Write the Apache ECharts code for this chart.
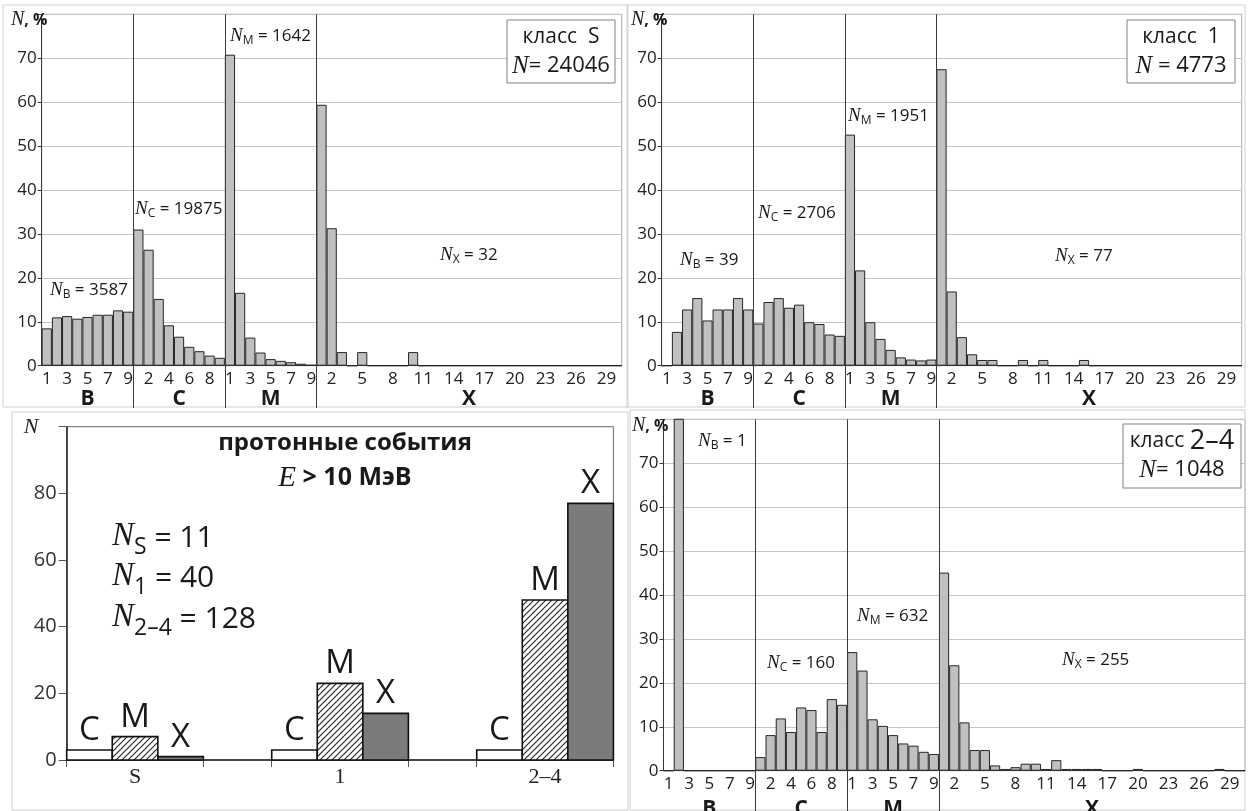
<!DOCTYPE html>
<html>
<head>
<meta charset="utf-8">
<script src="https://cdn.jsdelivr.net/npm/echarts@6/dist/echarts.min.js"></script>
<style>
  html, body { margin: 0; padding: 0; background: #fff; }
  #main { width: 1248px; height: 811px; }
</style>
</head>
<body>
<div id="main"></div>
<script>
// ---- flare classes and bins (B1..B9, C1..C9, M1..M9, X1..X30) ----
const classNames = ['B', 'C', 'M', 'X'];
const binsPerClass = [9, 9, 9, 30];
const bins = classNames.flatMap((c, i) => Array.from({ length: binsPerClass[i] }, (_, k) => c + (k + 1)));

// ---- class S sunspot groups, % of flares in each bin ----
const classS_B = [8.5, 11.0, 11.3, 10.7, 11.1, 11.6, 11.6, 12.6, 12.3];
const classS_C = [31.0, 26.4, 15.2, 9.2, 6.6, 4.3, 3.3, 2.3, 1.8];
const classS_M = [70.8, 16.6, 6.4, 3.0, 1.5, 1.1, 0.8, 0.45, 0.2];
const classS_X = [59.4, 31.3, 3.1, 0, 3.1, 0, 0, 0, 0, 3.1,
                  0, 0, 0, 0, 0, 0, 0, 0, 0, 0,
                  0, 0, 0, 0, 0, 0, 0, 0, 0, 0];

// ---- class 1 ----
const classOne_B = [0, 7.7, 12.8, 15.4, 10.3, 12.8, 12.8, 15.4, 12.8];
const classOne_C = [9.6, 14.5, 15.4, 13.2, 13.9, 9.9, 9.5, 7.1, 6.8];
const classOne_M = [52.6, 21.7, 9.9, 6.1, 3.6, 1.9, 1.4, 1.2, 1.4];
const classOne_X = [67.5, 16.9, 6.5, 2.6, 1.3, 1.3, 0, 0, 1.3, 0,
                    1.3, 0, 0, 0, 1.3, 0, 0, 0, 0, 0,
                    0, 0, 0, 0, 0, 0, 0, 0, 0, 0];

// ---- class 2–4 ----
const classTwoFour_B = [0, 100, 0, 0, 0, 0, 0, 0, 0];
const classTwoFour_C = [3.1, 8.1, 11.9, 8.8, 14.4, 13.8, 8.8, 16.3, 15.0];
const classTwoFour_M = [27.0, 22.8, 11.7, 10.2, 8.1, 6.2, 5.7, 4.3, 3.8];
const classTwoFour_X = [45.1, 24.0, 11.0, 4.7, 4.7, 1.2, 0.4, 0.8, 1.6, 1.6,
                        0.4, 2.4, 0.4, 0.4, 0.4, 0.4, 0, 0, 0, 0.4,
                        0, 0, 0, 0, 0, 0, 0, 0.4, 0, 0];

// ---- proton events E > 10 MeV by sunspot class ----
const protonGroups = ['S', '1', '2–4'];
const protonFlareLetters = ['C', 'M', 'X'];
const protonC = [3, 3, 3];
const protonM = [7, 23, 48];
const protonX = [1, 14, 77];

const SANS = '"Open Sans", "Noto Sans", sans-serif';
const SERIF = '"Liberation Serif", "DejaVu Serif", serif';

// three histogram panels
const histPanels = [
  { title: 'S', total: '24046', eq: '= ', values: [classS_B, classS_C, classS_M, classS_X],
    grid: { left: 41.7, top: 14.3, width: 580, height: 351.4 }, panelBottom: 408, classLabelDy: 33,
    counts: [['B', '3587', 50, 292], ['C', '19875', 135, 211], ['M', '1642', 230, 38], ['X', '32', 440, 257]],
    box: [507, 20, 108, 63], unitLabel: [11, 20] },
  { title: '1', total: '4773', eq: ' = ', values: [classOne_B, classOne_C, classOne_M, classOne_X],
    grid: { left: 661.7, top: 14.3, width: 580, height: 351.4 }, panelBottom: 408, classLabelDy: 33,
    counts: [['B', '39', 680, 262], ['C', '2706', 758, 215], ['M', '1951', 848, 118], ['X', '77', 1055, 258]],
    box: [1127, 20, 108, 63], unitLabel: [631, 20] },
  { title: '2–4', total: '1048', eq: '= ', values: [classTwoFour_B, classTwoFour_C, classTwoFour_M, classTwoFour_X],
    grid: { left: 663.5, top: 419.3, width: 581.5, height: 351.4 }, panelBottom: 811, classLabelDy: 38,
    counts: [['B', '1', 698, 443], ['C', '160', 767, 665], ['M', '632', 857, 618], ['X', '255', 1062, 662]],
    box: [1123, 424, 118, 64], unitLabel: [632, 426] }
];

function showBinLabel(index) {
  return index < 27 ? index % 2 === 0 : (index - 27) % 3 === 1;
}

const grids = [], xAxes = [], yAxes = [], series = [];

histPanels.forEach((p, i) => {
  grids.push(Object.assign({ show: true, borderColor: '#a8a8a8', borderWidth: 1, backgroundColor: 'transparent' }, p.grid));
  xAxes.push({
    type: 'category', gridIndex: i, data: bins,
    axisLine: { lineStyle: { color: '#3a3a3a', width: 1 } },
    axisTick: { interval: 0, length: 4, lineStyle: { color: '#3a3a3a' } },
    axisLabel: { interval: (idx) => showBinLabel(idx), formatter: (v) => v.slice(1),
                 fontFamily: SANS, fontSize: 17, color: '#222', margin: 5 },
    splitLine: { show: false }
  });
  yAxes.push({
    type: 'value', gridIndex: i, min: 0, max: 80, interval: 10,
    axisLine: { show: true, lineStyle: { color: '#3a3a3a', width: 1 } },
    axisTick: { show: true, length: 4, lineStyle: { color: '#3a3a3a' } },
    axisLabel: { formatter: (v) => (v === 80 ? '' : v), fontFamily: SANS, fontSize: 17, color: '#222', margin: 5 },
    splitLine: { show: true, lineStyle: { color: '#c6c6c6', width: 1 } }
  });
  series.push({
    type: 'bar', xAxisIndex: i, yAxisIndex: i,
    data: [].concat(...p.values),
    barCategoryGap: '0%', clip: true,
    itemStyle: { color: '#c0c0c0', borderColor: '#262626', borderWidth: 1 },
    silent: true
  });
});

// hatch fill for the M bars of the proton-event panel
function hatchPattern() {
  const c = document.createElement('canvas');
  c.width = 6; c.height = 6;
  const g = c.getContext('2d');
  g.fillStyle = '#fff'; g.fillRect(0, 0, 6, 6);
  g.strokeStyle = '#2a2a2a'; g.lineWidth = 1.2;
  g.beginPath();
  g.moveTo(-1, 7); g.lineTo(7, -1);
  g.moveTo(-1, 1); g.lineTo(1, -1);
  g.moveTo(5, 7); g.lineTo(7, 5);
  g.stroke();
  return { image: c, repeat: 'repeat' };
}
const protonFills = ['#ffffff', hatchPattern(), '#7b7b7b'];

// proton-event panel: each group is three adjacent bars, 1.5 bar widths apart
const GROUP_STEP = 4.5;
const protonData = [];
protonGroups.forEach((g, gi) => {
  [protonC, protonM, protonX].forEach((arr, k) => {
    protonData.push([gi * GROUP_STEP + k, arr[gi], k]);
  });
});

grids.push({ left: 66.7, top: 426.7, width: 546.7, height: 333.3, show: true, borderColor: '#6a6a6a', borderWidth: 1 });
xAxes.push({
  type: 'value', gridIndex: 3, min: 0, max: 12,
  axisLine: { lineStyle: { color: '#222', width: 1.5 } },
  axisTick: { show: true, length: 7, lineStyle: { color: '#555' },
              customValues: [0, 3, GROUP_STEP, GROUP_STEP + 3, 2 * GROUP_STEP, 2 * GROUP_STEP + 3] },
  axisLabel: { customValues: protonGroups.map((_, i) => i * GROUP_STEP + 1.5),
               formatter: (v) => protonGroups[Math.round((v - 1.5) / GROUP_STEP)],
               fontFamily: SERIF, fontSize: 22, color: '#222', margin: 6 },
  splitLine: { show: false }
});
yAxes.push({
  type: 'value', gridIndex: 3, min: 0, max: 100, interval: 20,
  axisLine: { show: true, lineStyle: { color: '#222', width: 1.5 } },
  axisTick: { show: true, length: 8, lineStyle: { color: '#555' } },
  axisLabel: { formatter: (v) => (v === 100 ? '' : v), fontFamily: SANS, fontSize: 20, color: '#333', margin: 10 },
  splitLine: { show: false }
});
series.push({
  type: 'custom', xAxisIndex: 3, yAxisIndex: 3, data: protonData, silent: true,
  renderItem: (params, api) => {
    const x0 = api.value(0), v = api.value(1), k = api.value(2);
    const pA = api.coord([x0, 0]);
    const pB = api.coord([x0 + 1, v]);
    return {
      type: 'group',
      children: [
        { type: 'rect', shape: { x: pA[0], y: pB[1], width: pB[0] - pA[0], height: pA[1] - pB[1] },
          style: { fill: protonFills[k], stroke: '#111', lineWidth: 1.6 } },
        { type: 'text', style: { text: protonFlareLetters[k], x: (pA[0] + pB[0]) / 2, y: pB[1] - 3,
          align: 'center', verticalAlign: 'bottom', font: '33px ' + SANS, fill: '#1a1a1a' } }
      ]
    };
  }
});

const chart = echarts.init(document.getElementById('main'), null, { renderer: 'canvas' });
chart.setOption({
  animation: false,
  backgroundColor: '#ffffff',
  grid: grids, xAxis: xAxes, yAxis: yAxes, series: series
});

// ---- text, frames and class separators ----
const g = [];

// panel frames
[[3, 5, 625, 402], [627, 5, 618, 402], [12, 412, 616, 398], [630, 410, 615, 400]].forEach((r) => {
  g.push({ type: 'rect', shape: { x: r[0], y: r[1], width: r[2], height: r[3] }, z: 0,
           style: { fill: null, stroke: '#cfcfcf', lineWidth: 1 } });
});

function countLabel(sub, val, x, y) {
  return {
    type: 'text', x: x, y: y, z: 20,
    style: {
      text: '{n|N}{s|' + sub + '}{v| = ' + val + '}',
      verticalAlign: 'middle', align: 'left',
      rich: {
        n: { fontFamily: SERIF, fontStyle: 'italic', fontSize: 19, lineHeight: 20, verticalAlign: 'bottom', padding: [0, 0, 3, 0], fill: '#1a1a1a' },
        s: { fontFamily: SANS, fontSize: 12, lineHeight: 12, verticalAlign: 'bottom', padding: [0, 0, 1, 0], fill: '#1a1a1a' },
        v: { fontFamily: SANS, fontSize: 17, lineHeight: 20, verticalAlign: 'bottom', padding: [0, 0, 3, 0], fill: '#1a1a1a' }
      }
    }
  };
}

histPanels.forEach((p, i) => {
  // axis unit label
  g.push({ type: 'text', x: p.unitLabel[0], y: p.unitLabel[1], z: 20,
    style: { text: '{n|N}{t|, %}', verticalAlign: 'middle',
      rich: { n: { fontFamily: SERIF, fontStyle: 'italic', fontSize: 20, fill: '#1a1a1a' },
              t: { fontFamily: SANS, fontWeight: 'bold', fontSize: 16, fill: '#1a1a1a' } } } });
  // flare counts per class
  p.counts.forEach((c) => g.push(countLabel(c[0], c[1], c[2], c[3])));
  // legend box with class name and total
  const b = p.box;
  g.push({ type: 'rect', z: 20, shape: { x: b[0], y: b[1], width: b[2], height: b[3] },
           style: { fill: '#fff', stroke: '#808080', lineWidth: 1 } });
  g.push({ type: 'text', z: 21, x: b[0] + b[2] / 2, y: b[1] + 17,
    style: { text: p.title.length > 1 ? '{a|класс }{b|' + p.title + '}' : '{a|класс  ' + p.title + '}',
      align: 'center', verticalAlign: 'middle',
      rich: { a: { fontFamily: SANS, fontSize: 21, fill: '#1a1a1a' },
              b: { fontFamily: SANS, fontSize: 27, fill: '#1a1a1a' } } } });
  g.push({ type: 'text', z: 21, x: b[0] + b[2] / 2, y: b[1] + 46,
    style: { text: '{n|N}{v|' + p.eq + p.total + '}', align: 'center', verticalAlign: 'middle',
      rich: { n: { fontFamily: SERIF, fontStyle: 'italic', fontSize: 25, fill: '#1a1a1a' },
              v: { fontFamily: SANS, fontSize: 22, fill: '#1a1a1a' } } } });

  // class separators and class letters under the axis
  const px = (name) => chart.convertToPixel({ xAxisIndex: i }, name);
  const bw = px('B2') - px('B1');
  const topY = chart.convertToPixel({ yAxisIndex: i }, 80);
  const baseY = chart.convertToPixel({ yAxisIndex: i }, 0);
  classNames.forEach((c, ci) => {
    const first = px(c + '1');
    const last = px(c + binsPerClass[ci]);
    if (ci > 0) {
      const xs = Math.round(first - bw / 2) + 0.5;
      g.push({ type: 'line', z: 30, shape: { x1: xs, y1: topY, x2: xs, y2: p.panelBottom },
               style: { stroke: '#3c3c3c', lineWidth: 1 } });
    }
    g.push({ type: 'text', z: 20, x: (first + last) / 2, y: baseY + p.classLabelDy,
      style: { text: c, align: 'center', verticalAlign: 'middle', font: 'bold 21px ' + SANS, fill: '#1a1a1a' } });
  });
});

// proton-event panel texts
g.push({ type: 'text', x: 31, y: 427, z: 20,
  style: { text: 'N', align: 'center', verticalAlign: 'middle', font: 'italic 22px ' + SERIF, fill: '#222' } });
g.push({ type: 'text', x: 345, y: 443, z: 20,
  style: { text: 'протонные события', align: 'center', verticalAlign: 'middle', font: 'bold 24px ' + SANS, fill: '#1a1a1a' } });
g.push({ type: 'text', x: 345, y: 478, z: 20,
  style: { text: '{e|E}{b| > 10 МэВ}', align: 'center', verticalAlign: 'middle',
    rich: { e: { fontFamily: SERIF, fontStyle: 'italic', fontSize: 29, fill: '#1a1a1a' },
            b: { fontFamily: SANS, fontWeight: 'bold', fontSize: 25, fill: '#1a1a1a' } } } });

const protonTotals = [['S', '11'], ['1', '40'], ['2–4', '128']];
protonTotals.forEach((t, i) => {
  g.push({ type: 'text', x: 112, y: [542, 582, 623][i], z: 20,
    style: { text: '{n|N}{s|' + t[0] + '}{v| = ' + t[1] + '}', align: 'left', verticalAlign: 'middle',
      rich: {
        n: { fontFamily: SERIF, fontStyle: 'italic', fontSize: 33, lineHeight: 34, verticalAlign: 'bottom', padding: [0, 0, 6, 0], fill: '#1a1a1a' },
        s: { fontFamily: SANS, fontSize: 23, lineHeight: 24, verticalAlign: 'bottom', padding: [0, 0, 0, 0], fill: '#1a1a1a' },
        v: { fontFamily: SANS, fontSize: 30, lineHeight: 34, verticalAlign: 'bottom', padding: [0, 0, 6, 0], fill: '#1a1a1a' }
      } } });
});

chart.setOption({ graphic: { elements: g } });
</script>
</body>
</html>
